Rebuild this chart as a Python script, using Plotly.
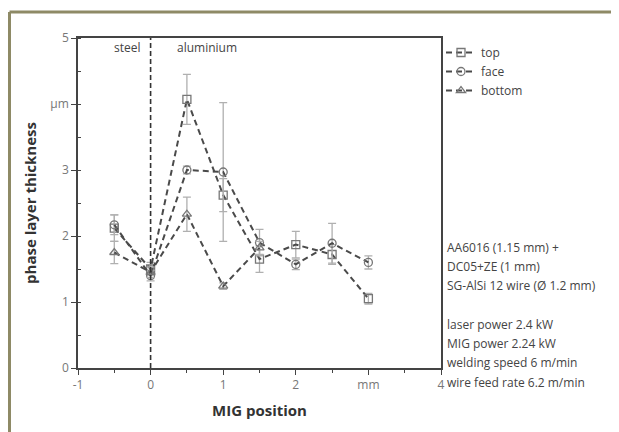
import plotly.graph_objects as go

# ---- data ----
x_top = [-0.5, 0, 0.5, 1, 1.5, 2, 2.5, 3]
top = [2.12, 1.50, 4.07, 2.62, 1.65, 1.87, 1.72, 1.05]
top_err = [0.20, 0.10, 0.38, 0.25, 0.20, 0.20, 0.15, 0.08]

x_face = [-0.5, 0, 0.5, 1, 1.5, 2, 2.5, 3]
face = [2.17, 1.40, 3.00, 2.97, 1.90, 1.57, 1.89, 1.60]
face_err = [0.15, 0.08, 0.06, 1.05, 0.20, 0.08, 0.30, 0.10]

x_bottom = [-0.5, 0, 0.5, 1, 1.5]
bottom = [1.75, 1.45, 2.33, 1.24, 1.82]
bottom_err = [0.17, 0.08, 0.26, 0.05, 0.10]

x_tickvals = [-1, 0, 1, 2, 3, 4]
x_ticktext = ["-1", "0", "1", "2", "mm", "4"]
y_tickvals = [0, 1, 2, 3, 4, 5]
y_ticktext = ["0", "1", "2", "3", "µm", "5"]

boundary = 0  # steel / aluminium interface
info_lines = ["AA6016 (1.15 mm) +", "DC05+ZE (1 mm)", "SG-AlSi 12 wire (Ø 1.2 mm)", "",
              "laser power 2.4 kW", "MIG power 2.24 kW", "welding speed 6 m/min",
              "wire feed rate 6.2 m/min"]

FONT = "Open Sans"
OFF = 8  # page body margin: screenshot px = figure px + OFF
W, H = 619 - OFF, 432 - OFF
# plot area in screenshot pixels
PL, PR, PT, PB = 78, 441, 38, 368
ML, MR, MT, MB = PL - OFF, W - (PR - OFF), PT - OFF, H - (PB - OFF)
PW, PH = PR - PL, PB - PT


def px_to_paper_x(px):
    return (px - PL) / PW


def px_to_paper_y(py):
    return (PB - py) / PH


fig = go.Figure()

series = [
    ("top", x_top, top, top_err, "square-open"),
    ("face", x_face, face, face_err, "circle-open"),
    ("bottom", x_bottom, bottom, bottom_err, "triangle-up-open"),
]
for name, xs, ys, es, sym in series:
    fig.add_trace(go.Scatter(
        x=xs, y=ys, name=name, mode="lines+markers",
        line=dict(color="#4a4a4a", width=2, dash="6px,4px"),
        marker=dict(symbol=sym, size=8, color="#777777", line=dict(width=1.3, color="#777777")),
        error_y=dict(type="data", array=es, visible=True, color="#b0b0b0", thickness=1.3, width=4),
    ))

# steel / aluminium boundary
fig.add_shape(type="line", xref="x", yref="y", x0=boundary, x1=boundary, y0=0, y1=5,
              line=dict(color="#333333", width=1.6, dash="5px,3px"))

fig.add_annotation(x=boundary - 0.1, y=4.85, xref="x", yref="y", text="steel",
                   showarrow=False, xanchor="right", font=dict(family=FONT, size=12, color="#444"))
fig.add_annotation(x=boundary + 0.33, y=4.85, xref="x", yref="y", text="aluminium",
                   showarrow=False, xanchor="left", font=dict(family=FONT, size=12, color="#444"))

# info block
for i, line in enumerate(info_lines):
    if not line:
        continue
    fig.add_annotation(x=px_to_paper_x(445), y=px_to_paper_y(247 + 19.3 * i), xref="paper", yref="paper",
                       text=line, showarrow=False, xanchor="left", yanchor="middle",
                       font=dict(family=FONT, size=12, color="#444"))

# outer frame (top and left edges)
frame_col = "#8e8a66"
fig.add_shape(type="line", xref="paper", yref="paper",
              x0=px_to_paper_x(OFF + 1.5), x1=px_to_paper_x(640), y0=px_to_paper_y(12), y1=px_to_paper_y(12),
              line=dict(color=frame_col, width=3))
fig.add_shape(type="line", xref="paper", yref="paper",
              x0=px_to_paper_x(OFF + 1.5), x1=px_to_paper_x(OFF + 1.5), y0=px_to_paper_y(12), y1=px_to_paper_y(450),
              line=dict(color=frame_col, width=3))

fig.update_layout(
    width=W, height=H,
    margin=dict(l=ML, r=MR, t=MT, b=MB, autoexpand=False),
    paper_bgcolor="white", plot_bgcolor="white",
    showlegend=True,
    legend=dict(x=px_to_paper_x(441), y=px_to_paper_y(38), xanchor="left", yanchor="top",
                font=dict(family=FONT, size=12, color="#444"), tracegroupgap=0,
                itemwidth=30, bgcolor="rgba(0,0,0,0)"),
    font=dict(family=FONT, size=12, color="#444"),
)

fig.update_xaxes(range=[-1, 4], tickvals=x_tickvals, ticktext=x_ticktext,
                 showgrid=False, zeroline=False, showline=True, linecolor="#444", linewidth=1.5,
                 mirror=True, ticks="outside", ticklen=5, tickcolor="#444", tickwidth=1.3,
                 tickfont=dict(family=FONT, size=12, color="#777"),
                 minor=dict(dtick=0.5, tick0=-1, ticks="outside", ticklen=3, tickcolor="#444"),
                 title=dict(text="<b>MIG position</b>", font=dict(family=FONT, size=15, color="#333"),
                            standoff=13))
fig.update_yaxes(range=[0, 5], tickvals=y_tickvals, ticktext=y_ticktext,
                 showgrid=False, zeroline=False, showline=True, linecolor="#444", linewidth=1.5,
                 mirror=True, ticks="outside", ticklen=5, tickcolor="#444", tickwidth=1.3,
                 tickfont=dict(family=FONT, size=12, color="#777"),
                 minor=dict(dtick=0.5, tick0=0, ticks="inside", ticklen=3, tickcolor="#444"),
                 title=dict(text="<b>phase layer thickness</b>", font=dict(family=FONT, size=15, color="#333"),
                            standoff=10))

fig.write_html("out.html")
